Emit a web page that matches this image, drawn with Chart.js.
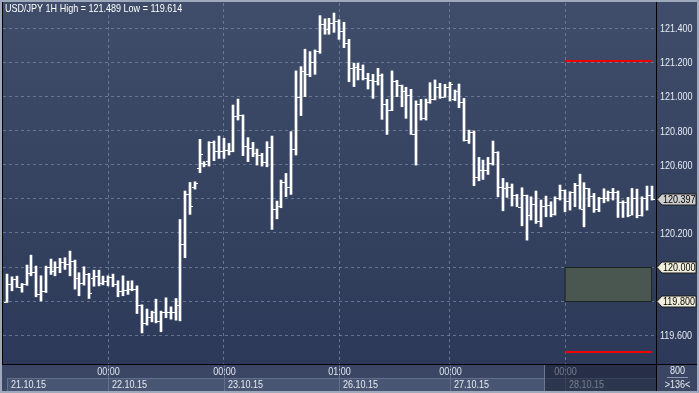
<!DOCTYPE html>
<html>
<head>
<meta charset="utf-8">
<script src="https://cdn.jsdelivr.net/npm/chart.js@4.4.0/dist/chart.umd.min.js"></script>
<style>
  html, body { margin: 0; padding: 0; background: #3a4663; }
</style>
</head>
<body>
<canvas id="chart" width="699" height="393"></canvas>
<script>
'use strict';

// USD/JPY 1H bars
var opens = [119.793, 119.898, 119.930, 119.881, 119.900, 119.963, 119.969, 119.840, 119.859, 120.002,
  119.977, 119.998, 120.027, 120.016, 120.035, 119.935, 119.908, 119.959, 119.935, 119.949,
  119.908, 119.920, 119.943, 119.900, 119.859, 119.865, 119.869, 119.873, 119.779, 119.675,
  119.709, 119.738, 119.685, 119.734, 119.738, 119.734, 119.777, 120.133, 120.428, 120.470,
  120.580, 120.610, 120.620, 120.735, 120.680, 120.680, 120.686, 120.680, 120.886, 120.892,
  120.710, 120.700, 120.671, 120.657, 120.614, 120.706, 120.338, 120.358, 120.497, 120.467,
  120.690, 120.995, 121.150, 121.132, 121.204, 121.269, 121.423, 121.394, 121.429, 121.445,
  121.384, 121.316, 121.165, 121.171, 121.161, 121.107, 121.097, 121.091, 121.126, 120.954,
  120.921, 121.091, 121.067, 121.032, 121.009, 120.778, 120.954, 120.872, 120.966, 120.985,
  121.054, 120.999, 121.054, 120.983, 121.034, 120.970, 120.745, 120.794, 120.526, 120.569,
  120.569, 120.608, 120.672, 120.471, 120.465, 120.471, 120.422, 120.354, 120.420, 120.305,
  120.369, 120.272, 120.360, 120.364, 120.309, 120.407, 120.452, 120.387, 120.438, 120.481,
  120.340, 120.461, 120.416, 120.340, 120.403, 120.403, 120.442, 120.442, 120.383, 120.379,
  120.305, 120.407, 120.305, 120.407, 120.422];
var highs = [119.959, 119.943, 119.947, 119.904, 120.012, 120.070, 120.006, 119.949, 120.006, 120.047,
  120.031, 120.051, 120.055, 120.094, 120.041, 119.967, 120.002, 119.963, 119.982, 119.982,
  119.947, 119.949, 119.959, 119.920, 119.949, 119.918, 119.920, 119.890, 119.779, 119.754,
  119.742, 119.812, 119.742, 119.820, 119.767, 119.816, 120.279, 120.446, 120.496, 120.500,
  120.749, 120.618, 120.735, 120.739, 120.768, 120.755, 120.725, 120.950, 120.985, 120.892,
  120.759, 120.731, 120.692, 120.667, 120.735, 120.768, 120.387, 120.510, 120.549, 120.794,
  121.150, 121.175, 121.277, 121.263, 121.273, 121.474, 121.455, 121.458, 121.489, 121.450,
  121.435, 121.335, 121.195, 121.195, 121.185, 121.136, 121.130, 121.165, 121.132, 120.983,
  121.150, 121.095, 121.067, 121.054, 121.042, 120.974, 120.983, 120.985, 121.081, 121.097,
  121.077, 121.071, 121.083, 121.038, 121.073, 120.989, 120.803, 120.798, 120.643, 120.627,
  120.643, 120.739, 120.676, 120.520, 120.495, 120.487, 120.426, 120.465, 120.422, 120.412,
  120.446, 120.393, 120.416, 120.383, 120.412, 120.481, 120.452, 120.442, 120.491, 120.545,
  120.495, 120.461, 120.432, 120.409, 120.459, 120.446, 120.461, 120.446, 120.389, 120.409,
  120.461, 120.457, 120.412, 120.475, 120.475];
var lows = [119.793, 119.861, 119.881, 119.853, 119.893, 119.949, 119.826, 119.801, 119.851, 119.957,
  119.949, 119.967, 119.986, 119.949, 119.871, 119.832, 119.894, 119.816, 119.888, 119.890,
  119.896, 119.890, 119.885, 119.826, 119.832, 119.840, 119.861, 119.728, 119.614, 119.660,
  119.679, 119.673, 119.621, 119.703, 119.695, 119.689, 119.685, 120.055, 120.309, 120.457,
  120.553, 120.588, 120.592, 120.624, 120.637, 120.637, 120.657, 120.676, 120.862, 120.653,
  120.618, 120.647, 120.598, 120.592, 120.588, 120.221, 120.283, 120.348, 120.413, 120.426,
  120.657, 120.888, 120.999, 121.116, 121.130, 121.253, 121.365, 121.365, 121.376, 121.335,
  121.286, 121.087, 121.058, 121.097, 121.097, 121.044, 120.989, 121.067, 120.866, 120.778,
  120.917, 120.999, 120.940, 120.872, 120.778, 120.598, 120.862, 120.862, 120.960, 120.980,
  120.989, 120.995, 120.974, 120.975, 120.934, 120.739, 120.725, 120.477, 120.506, 120.514,
  120.543, 120.598, 120.412, 120.330, 120.409, 120.358, 120.354, 120.242, 120.158, 120.276,
  120.256, 120.236, 120.295, 120.295, 120.305, 120.393, 120.324, 120.334, 120.354, 120.340,
  120.236, 120.354, 120.321, 120.325, 120.377, 120.387, 120.393, 120.291, 120.291, 120.295,
  120.305, 120.289, 120.299, 120.334, 120.393];
var closes = [119.898, 119.930, 119.881, 119.900, 119.963, 119.969, 119.840, 119.859, 120.002, 119.977,
  119.998, 120.027, 120.016, 120.035, 119.935, 119.908, 119.959, 119.851, 119.949, 119.908,
  119.920, 119.943, 119.900, 119.859, 119.865, 119.869, 119.873, 119.779, 119.675, 119.709,
  119.738, 119.685, 119.734, 119.738, 119.734, 119.777, 120.133, 120.428, 120.358, 120.491,
  120.663, 120.604, 120.735, 120.680, 120.680, 120.686, 120.680, 120.886, 120.892, 120.710,
  120.700, 120.671, 120.657, 120.614, 120.706, 120.338, 120.358, 120.497, 120.467, 120.690,
  120.995, 121.150, 121.132, 121.204, 121.269, 121.423, 121.394, 121.429, 121.445, 121.384,
  121.316, 121.165, 121.171, 121.161, 121.107, 121.097, 121.091, 121.126, 120.954, 120.921,
  121.091, 121.067, 121.032, 121.009, 120.778, 120.954, 120.872, 120.966, 120.985, 121.054,
  120.999, 121.054, 121.073, 121.034, 120.970, 120.745, 120.794, 120.526, 120.569, 120.569,
  120.608, 120.672, 120.471, 120.465, 120.471, 120.422, 120.354, 120.420, 120.305, 120.369,
  120.272, 120.360, 120.364, 120.309, 120.407, 120.452, 120.387, 120.438, 120.481, 120.340,
  120.461, 120.416, 120.340, 120.403, 120.403, 120.442, 120.442, 120.383, 120.379, 120.305,
  120.407, 120.305, 120.407, 120.422, 120.397];

// bar index of each session start and its time label
var dayStarts = [21, 45, 69, 92, 116];
var hourLabels = ['00:00', '00:00', '01:00', '00:00', '00:00'];
var dateLabels = ['21.10.15', '22.10.15', '23.10.15', '26.10.15', '27.10.15', '28.10.15'];
var priceTicks = [119.6, 119.8, 120.0, 120.2, 120.4, 120.6, 120.8, 121.0, 121.2, 121.4];

// levels drawn on the right part
var levelStart = 116;
var zone = [119.8, 120.0];
var redLevels = [121.208, 119.502];

var FONT = "'Liberation Sans', Arial, sans-serif";
var GRID = 'rgba(125,140,170,0.7)';
var SQUEEZE = 0.82; // the original font is a narrow one

var bars = highs.map(function (h, i) {
  return { x: i, y: [lows[i], h] };
});

// narrow text
function txt(c, s, x, y, align) {
  c.save();
  c.translate(x, y);
  c.scale(SQUEEZE, 1);
  c.textAlign = align || 'left';
  c.fillText(s, 0, 0);
  c.restore();
}

function tag(c, y, text, fill) {
  var x0 = 657;
  c.beginPath();
  c.moveTo(x0, y);
  c.lineTo(x0 + 5, y - 5.5);
  c.lineTo(696, y - 5.5);
  c.lineTo(696, y + 5.5);
  c.lineTo(x0 + 5, y + 5.5);
  c.closePath();
  c.fillStyle = fill;
  c.fill();
  c.strokeStyle = '#1a1a1a';
  c.lineWidth = 1;
  c.stroke();
  c.fillStyle = '#000000';
  txt(c, text, x0 + 6, y + 0.5, 'left');
}

var decor = {
  id: 'decor',
  afterDatasetsUpdate: function (chart) {
    // keep the bars on whole pixels
    chart.getDatasetMeta(0).data.forEach(function (el) {
      el.x = Math.round(el.x);
    });
  },
  beforeDraw: function (chart) {
    var c = chart.ctx, a = chart.chartArea, x = chart.scales.x;
    c.save();
    c.fillStyle = '#3a4663';
    c.fillRect(0, 0, chart.width, chart.height);
    var g = c.createLinearGradient(0, a.top, 0, a.bottom);
    g.addColorStop(0, '#3f4d6a');
    g.addColorStop(1, '#2c3958');
    c.fillStyle = g;
    c.fillRect(0, 0, chart.width, a.bottom);

    // date boxes on the time axis
    var starts = [0].concat(dayStarts);
    c.font = '11px ' + FONT;
    c.textBaseline = 'middle';
    for (var k = 0; k < dateLabels.length; k++) {
      var x0 = Math.round(x.getPixelForValue(starts[k])) + 0.5;
      var x1 = k + 1 < starts.length ? Math.round(x.getPixelForValue(starts[k + 1])) + 0.5 : a.right;
      c.fillStyle = '#495673';
      c.fillRect(x0, 378, x1 - x0, 13);
      c.strokeStyle = '#63708c';
      c.lineWidth = 1;
      c.beginPath();
      c.moveTo(x0, 378.5); c.lineTo(x1, 378.5);
      c.moveTo(x0, k === 0 ? 378 : a.bottom); c.lineTo(x0, 391);
      c.stroke();
      c.fillStyle = '#e6eaf2';
      txt(c, dateLabels[k], x0 + 3.5, 385, 'left');
    }
    c.restore();
  },
  afterDatasetsDraw: function (chart) {
    var c = chart.ctx, x = chart.scales.x, y = chart.scales.y;
    c.save();
    c.fillStyle = '#ffffff';
    for (var i = 0; i < opens.length; i++) {
      var px = Math.round(x.getPixelForValue(i));
      c.fillRect(px - 3, Math.round(y.getPixelForValue(opens[i])), 2, 1);
      c.fillRect(px + 1, Math.round(y.getPixelForValue(closes[i])), 2, 1);
    }
    c.restore();
  },
  afterDraw: function (chart) {
    var c = chart.ctx, a = chart.chartArea, x = chart.scales.x, y = chart.scales.y;
    var last = opens.length - 1;
    var zx0 = x.getPixelForValue(levelStart), zx1 = x.getPixelForValue(last);
    c.save();
    c.font = '11px ' + FONT;
    c.textBaseline = 'middle';

    // support zone
    var zt = Math.round(y.getPixelForValue(zone[1])) + 0.5;
    var zb = Math.round(y.getPixelForValue(zone[0])) + 0.5;
    c.fillStyle = '#4a5650';
    c.fillRect(zx0, zt, zx1 - zx0, zb - zt);
    c.strokeStyle = '#1c241f';
    c.lineWidth = 1;
    c.strokeRect(zx0, zt, zx1 - zx0, zb - zt);

    // red levels
    c.strokeStyle = '#f00000';
    c.lineWidth = 2;
    redLevels.forEach(function (v) {
      var py = Math.round(y.getPixelForValue(v));
      c.beginPath();
      c.moveTo(zx0, py);
      c.lineTo(zx1, py);
      c.stroke();
    });

    // price and time labels
    c.fillStyle = '#e8ecf4';
    priceTicks.forEach(function (v) {
      txt(c, v.toFixed(3), a.right + 4, Math.round(y.getPixelForValue(v)) + 0.5, 'left');
    });
    c.fillStyle = '#dfe4ee';
    dayStarts.forEach(function (v, i) {
      txt(c, hourLabels[i], Math.round(x.getPixelForValue(v)) + 0.5, 372, 'center');
    });

    // panel separators
    c.strokeStyle = '#000000';
    c.lineWidth = 1;
    c.beginPath();
    c.moveTo(a.right + 0.5, 2); c.lineTo(a.right + 0.5, 392);
    c.moveTo(2, a.bottom + 0.5); c.lineTo(697, a.bottom + 0.5);
    c.moveTo(2.5, 2); c.lineTo(2.5, a.bottom);
    c.stroke();

    // dimmed part of the time axis
    c.fillStyle = 'rgba(22,30,50,0.55)';
    c.fillRect(544, a.bottom + 1, a.right - 544, 26);
    c.strokeStyle = '#6a7792';
    c.beginPath();
    c.moveTo(544.5, a.bottom + 1); c.lineTo(544.5, 391);
    c.stroke();

    // price tags
    tag(c, Math.round(y.getPixelForValue(zone[1])) + 0.5, zone[1].toFixed(3), '#f1efdc');
    tag(c, Math.round(y.getPixelForValue(zone[0])) + 0.5, zone[0].toFixed(3), '#f1efdc');
    tag(c, Math.round(y.getPixelForValue(closes[last])) + 0.5, closes[last].toFixed(3), '#cdcdcd');

    // title
    c.fillStyle = '#ffffff';
    txt(c, 'USD/JPY 1H High = ' + Math.max.apply(null, highs).toFixed(3) +
      ' Low = ' + Math.min.apply(null, lows).toFixed(3), 5, 9, 'left');

    // corner box
    c.fillStyle = '#e6eaf2';
    txt(c, '800', 677.5, 371, 'center');
    txt(c, '>136<', 677.5, 385, 'center');
    c.strokeStyle = '#8c97ad';
    c.beginPath();
    c.moveTo(667, 377.5); c.lineTo(688, 377.5);
    c.stroke();

    // outer frame
    c.strokeStyle = '#9ea9bc';
    c.lineWidth = 2;
    c.strokeRect(1, 1, 697, 391);
    c.restore();
  }
};

Chart.defaults.font.family = FONT;
Chart.defaults.font.size = 11;

var ctx = document.getElementById('chart');
var chart = new Chart(ctx, {
  type: 'bar',
  data: {
    datasets: [{
      data: bars,
      backgroundColor: '#ffffff',
      borderWidth: 0,
      barThickness: 2
    }]
  },
  options: {
    responsive: false,
    animation: false,
    layout: { padding: { left: 3, top: 3, right: 0, bottom: 0 } },
    plugins: { legend: { display: false }, tooltip: { enabled: false } },
    scales: {
      x: {
        type: 'linear',
        min: -0.894,
        max: 134.9,
        offset: false,
        grid: { color: GRID, drawTicks: false, offset: false },
        border: { display: false, dash: [3, 3] },
        ticks: { display: false },
        afterBuildTicks: function (s) {
          s.ticks = dayStarts.map(function (v) { return { value: v }; });
        },
        afterFit: function (s) {
          s.height = 29;
          s.paddingLeft = 0;
          s.paddingRight = 0;
        }
      },
      y: {
        position: 'right',
        min: 119.432,
        max: 121.548,
        grid: { color: GRID, drawTicks: false },
        border: { display: false, dash: [3, 3] },
        ticks: { display: false },
        afterBuildTicks: function (s) {
          s.ticks = priceTicks.map(function (v) { return { value: v }; });
        },
        afterFit: function (s) {
          s.width = 43;
          s.paddingTop = 0;
          s.paddingBottom = 0;
        }
      }
    }
  },
  plugins: [decor]
});
</script>
</body>
</html>
